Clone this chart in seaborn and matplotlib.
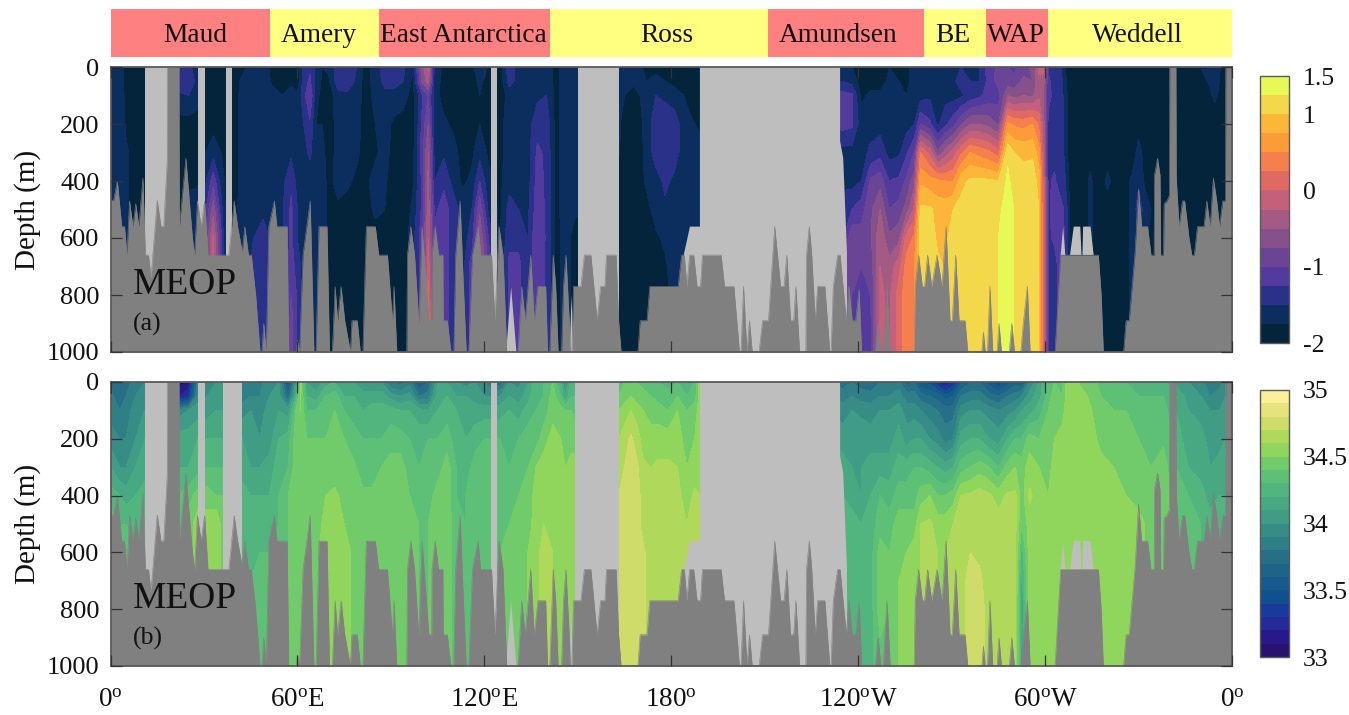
"""
plot.py

Temperature and salinity sections around Antarctica (MEOP)
"""
import matplotlib
matplotlib.use("Agg")
import matplotlib.pyplot as plt
from matplotlib.colors import ListedColormap
import numpy as np
import seaborn as sns

DEPTHS = [0, 50, 100, 200, 300, 400, 500, 600, 700, 800, 900, 1000]

REGION_NAMES = ["Maud", "Amery", "East Antarctica", "Ross", "Amundsen", "BE", "WAP", "Weddell"]
REGION_EDGES = [0, 51.2, 86.2, 141.1, 211.1, 261.1, 281, 301, 360]
REGION_LABEL_LON = [27.1, 66.9, 113.2, 178.7, 233.6, 270.5, 290.7, 329.5]
REGION_COLORS = ["#FF8080", "#FFFF80", "#FF8080", "#FFFF80", "#FF8080", "#FFFF80", "#FF8080", "#FFFF80"]

LON_TICKS = [0, 60, 120, 180, 240, 300, 360]
LON_LABELS = ["0$^{o}$", "60$^{o}$E", "120$^{o}$E", "180$^{o}$", "120$^{o}$W", "60$^{o}$W", "0$^{o}$"]
DEPTH_TICKS = [0, 200, 400, 600, 800, 1000]

TEMP_LEVELS = [-2, -1.75, -1.5, -1.25, -1, -0.75, -0.5, -0.25, 0, 0.25, 0.5, 0.75, 1, 1.25, 1.5]
TEMP_COLORS = ["#03243A", "#0B2E5E", "#293189", "#533A9E", "#6B4595", "#86518A", "#A35A83",
               "#C5607A", "#DE6A63", "#F67F4E", "#FD9B38", "#FCB63A", "#F4D84C", "#E6F957"]
SALT_LEVELS = [33 + 0.1 * i for i in range(21)]
SALT_COLORS = ["#27136F", "#28198A", "#24299C", "#1A3A9B", "#11508F", "#175A8C", "#1C6488",
               "#276F88", "#2F7F87", "#388C86", "#409C84", "#48A882", "#52B57E", "#5EC076",
               "#72CB6A", "#91D65C", "#B0D95C", "#CFDC6A", "#E6E37E", "#FDEE99"]

# seabed depth read along the section
BED_LON = [0, 1, 2.2, 3.6, 4.5, 5.3, 6.1, 7.2, 8.1, 9.1, 10.4, 11.2, 12.2, 13, 15, 16.2, 17.1, 18.2, 18.3, 22, 22.1,
           24.2, 25.3, 26.3, 27, 27.9, 29.1, 30.2, 31.3, 38, 39.7, 40.8, 42.3, 43.1, 44.3, 45.2, 46.6, 48, 48.6, 49.2,
           50, 50.8, 52.6, 53.4, 56.7, 57.2, 59.7, 60, 60.7, 61.8, 64.1, 65.3, 66, 66.9, 69.5, 70.3, 71.2, 72.1, 72.9,
           74, 75.2, 77, 77.5, 79.2, 80.2, 81, 82.1, 85, 86.1, 88.9, 90.5, 91, 91.9, 95.1, 95.3, 96.4, 97.6, 99, 100,
           102.2, 103.1, 103.2, 104.2, 105.3, 106.7, 106.8, 108.1, 109.3, 110.2, 110.8, 112.2, 113.4, 114.2, 115,
           116.2, 118, 118.8, 122.3, 123.4, 124.7, 126, 127.2, 130.8, 132, 133.1, 134.9, 136, 137.2, 139.7, 140.3, 141,
           142.1, 142.9, 143.7, 144.8, 145.4, 146.2, 147.3, 147.6, 148.1, 148.6, 151, 152.1, 154.2, 156.2, 157.3, 158.7,
           159.2, 162.3, 163.1, 163.9, 169.3, 170, 172.2, 173.1, 182.2, 183.3, 184.2, 185, 185.9, 187.2, 188.3, 189.4,
           190, 196, 197.1, 200.1, 201.9, 202.4, 203.2, 204.3, 205.1, 206, 208.2, 209.3, 211.2, 213.2, 215.1, 216.2,
           217.1, 218.3, 219.3, 220, 221.2, 223.2, 223.4, 224.3, 225.1, 226.2, 227, 229.3, 230.9, 231.3, 232, 233.4,
           234.2, 236.2, 237, 238.1, 239.2, 240.3, 241.1, 245.5, 246.4, 247.3, 248.1, 249.2, 250.3, 258, 258.3, 259.4,
           260.6, 261.3, 262.3, 263.6, 265.3, 266.9, 268.2, 269.5, 270.2, 271.3, 272.4, 274.3, 275.2, 279.7, 280.2,
           280.8, 281.5, 282.3, 283.2, 284.6, 285.2, 286, 288.5, 289.3, 290.2, 292.2, 293, 294.3, 295.2, 303.2, 305,
           317.1, 318, 318.7, 325.2, 326, 327, 328.9, 330, 331, 332.9, 334, 335, 335.1, 336.1, 336.9, 337.1, 338, 338.2,
           339.1, 339.9, 340, 342, 342.1, 343, 344.1, 344.8, 346.2, 347.1, 347.9, 348.9, 351, 351.9, 353, 354, 355.1,
           356, 357, 357.9, 358, 360]
BED_DEPTH = [468, 468, 400, 560, 560, 660, 470, 560, 480, 560, 390, 660, 660, 740, 468, 560, 560, 330, 0, 0, 560,
             320, 470, 600, 660, 470, 560, 470, 660, 660, 470, 560, 650, 560, 660, 660, 800, 1000, 1000, 900,
             1000, 560, 470, 560, 560, 1000, 1000, 960, 1000, 660, 470, 1000, 1000, 560, 560, 1000, 1000, 770, 890,
             770, 890, 1000, 890, 890, 1000, 1000, 560, 560, 660, 660, 890, 770, 1000, 1000, 660, 560, 660, 900, 560,
             890, 890, 660, 560, 660, 660, 890, 890, 1000, 1000, 660, 470, 800, 1000, 1000,
             660, 560, 660, 660, 890, 560, 660, 1000, 1000, 770, 890, 660, 890, 770, 770, 1000, 1000,
             660, 770, 1000, 1000, 770, 660, 900, 1000, 1000, 770, 770, 660, 660, 890, 770, 770,
             660, 660, 890, 1000, 1000, 890, 890, 770, 770, 660, 660, 770, 660, 660, 770, 770,
             660, 660, 770, 770, 1000, 1000, 770, 1000, 890, 1000, 1000, 890, 890, 560, 770, 770,
             660, 890, 890, 770, 1000, 1000, 660, 560, 660, 890, 770, 770, 1000, 1000, 770, 660,
             660, 890, 770, 890, 890, 780, 1000, 1000, 900, 1000, 1000, 770, 1000, 1000, 770, 660,
             770, 770, 660, 770, 660, 770, 560, 890, 890, 660, 890, 890, 1000, 1000, 930,
             1000, 1000, 770, 1000, 1000, 900, 1000, 1000, 900, 1000, 1000, 900, 770, 1000, 1000, 660,
             660, 800, 1000, 1000, 890, 890, 650, 430, 560, 560, 660, 660, 380, 320, 380, 660, 660, 480,
             470, 450, 0, 0, 390, 560, 470, 470, 600, 660, 660, 560, 560, 470, 560, 390, 470,
             560, 470, 470, 0, 0]

# profiles of potential temperature, top down, held at the last reading under the seabed
TEMP_LON = [0, 3, 5, 8, 11, 22, 25, 28, 30.5, 33, 35.5, 37, 40, 43, 46, 49, 52, 55, 58, 60, 62, 64, 66, 68, 70, 73, 76,
            79, 82, 85, 88, 91, 94, 97, 100, 102, 104, 107, 110, 113, 116, 118.5, 121.5, 125, 128, 131, 134, 137, 140,
            143, 146, 149, 163, 165, 168, 170, 172, 175, 178, 181, 184, 186, 189, 235, 238, 241, 244, 247, 250, 253,
            255.5, 258, 260, 263, 265.5, 268, 270.5, 273, 276, 279, 282, 285, 288, 290, 293, 296, 298, 299.5, 301, 303,
            305, 306.5, 308, 312, 314.5, 317, 320, 324, 328, 330, 332, 336, 342, 346, 351, 354.5, 358, 360]
TEMP_PROFILES = [
    [-1.6, -1.6, -1.6, -1.6, -1.6, -1.6, -1.6],
    [-1.65, -1.65, -1.65, -1.5, -1.6, -1.6, -1.6],
    [-1.8, -1.8, -1.8, -1.8, -1.7, -1.7, -1.7],
    [-1.9, -1.9, -1.9, -1.9, -1.9, -1.9, -1.9],
    [-1.9, -1.9, -1.9, -1.9, -1.9, -1.9, -1.9],
    [-1.45, -1.35, -1.55, -1.85, -1.9, -1.9, -1.9],
    [-1.45, -1.3, -1.5, -1.85, -1.85, -1.8, -1.65, -1.6],
    [-1.6, -1.6, -1.65, -1.85, -1.85, -1.8, -1.6, -1.6],
    [-1.9, -1.9, -1.9, -1.85, -1.75, -1.55, -1.3, -1.0, -0.9],
    [-1.9, -1.9, -1.9, -1.85, -1.6, -1.1, -0.6, -0.2, -0.2],
    [-1.9, -1.9, -1.9, -1.85, -1.75, -1.6, -1.4, -1.2, -1.2],
    [-1.9, -1.9, -1.9, -1.9, -1.85, -1.8, -1.8, -1.8],
    [-1.85, -1.85, -1.85, -1.85, -1.85, -1.85, -1.8, -1.8],
    [-1.8, -1.65, -1.6, -1.6, -1.6, -1.6, -1.6, -1.6],
    [-1.6, -1.6, -1.6, -1.55, -1.6, -1.6, -1.55, -1.5, -1.4, -1.3, -1.3, -1.3],
    [-1.65, -1.6, -1.6, -1.6, -1.6, -1.6, -1.55, -1.4, -1.3, -1.3, -1.3, -1.3],
    [-1.8, -1.8, -1.65, -1.6, -1.6, -1.55, -1.55, -1.55, -1.5],
    [-1.85, -1.85, -1.75, -1.65, -1.6, -1.6, -1.55, -1.55, -1.5, -1.5, -1.5, -1.5],
    [-1.85, -1.8, -1.65, -1.6, -1.55, -1.3, -1.2, -1.2, -1.1, -1.0, -0.9, -0.9],
    [-1.9, -1.9, -1.7, -1.6, -1.6, -1.6, -1.5, -1.5, -1.4, -1.3, -1.3, -1.3],
    [-1.45, -1.4, -1.35, -1.5, -1.6, -1.6, -1.6, -1.6, -1.6, -1.6, -1.6, -1.6],
    [-1.3, -1.2, -1.0, -1.3, -1.45, -1.65, -1.65, -1.65, -1.65, -1.65, -1.65, -1.65],
    [-1.6, -1.6, -1.7, -1.75, -1.65, -1.6, -1.6, -1.6, -1.6, -1.6, -1.6, -1.6],
    [-1.75, -1.8, -1.8, -1.75, -1.65, -1.6, -1.6, -1.6, -1.6, -1.6, -1.6, -1.6],
    [-1.7, -1.8, -1.9, -1.9, -1.9, -1.85, -1.85, -1.85, -1.85, -1.85, -1.85, -1.85],
    [-1.35, -1.35, -1.6, -1.65, -1.65, -1.65, -1.8, -1.9, -1.9, -1.9, -1.9, -1.9],
    [-1.3, -1.35, -1.55, -1.65, -1.65, -1.7, -1.85, -1.9, -1.9, -1.9, -1.9, -1.9],
    [-1.5, -1.55, -1.6, -1.65, -1.7, -1.8, -1.85, -1.9, -1.9, -1.9, -1.9, -1.9],
    [-1.9, -1.9, -1.9, -1.9, -1.85, -1.8, -1.85, -1.9, -1.9, -1.9, -1.9, -1.9],
    [-1.6, -1.6, -1.65, -1.75, -1.8, -1.65, -1.7, -1.85, -1.9, -1.9, -1.9, -1.9],
    [-1.4, -1.45, -1.55, -1.65, -1.65, -1.7, -1.75, -1.85, -1.9, -1.9, -1.9, -1.9],
    [-1.35, -1.4, -1.6, -1.8, -1.85, -1.9, -1.9, -1.9, -1.9, -1.9, -1.9, -1.9],
    [-1.45, -1.5, -1.65, -1.85, -1.9, -1.9, -1.9, -1.9, -1.9, -1.9, -1.9, -1.9],
    [-1.75, -1.8, -1.85, -1.9, -1.85, -1.8, -1.7, -1.6, -1.6, -1.6, -1.6, -1.6],
    [-0.6, -0.7, -1.3, -1.2, -1.1, -1.2, -1.2, -1.1, -1.1, -1.1, -1.1, -1.1],
    [-0.2, -0.4, -1.0, -0.75, -0.5, -0.45, -0.35, -0.25, -0.1, 0.1, 0.2, 0.2],
    [-1.6, -1.6, -1.65, -1.7, -1.6, -1.5, -1.3, -1.2, -1.2, -1.2, -1.2, -1.2],
    [-1.8, -1.85, -1.85, -1.7, -1.55, -1.3, -1.15, -1.2, -1.1, -1.1, -1.1, -1.1],
    [-1.85, -1.85, -1.85, -1.8, -1.65, -1.6, -1.35, -1.3, -1.4, -1.4, -1.4, -1.4],
    [-1.9, -1.9, -1.9, -1.9, -1.85, -1.8, -1.6, -1.6, -1.6, -1.6, -1.6, -1.6],
    [-1.85, -1.85, -1.9, -1.9, -1.8, -1.7, -1.5, -1.4, -1.1, -1.1, -1.1, -1.1],
    [-1.5, -1.7, -1.75, -1.75, -1.6, -1.25, -0.8, -0.5, -0.4, -0.4, -0.4, -0.4],
    [-1.8, -1.85, -1.85, -1.85, -1.8, -1.7, -1.6, -1.3, -1.1, -1.1, -1.1, -1.1],
    [-1.9, -1.9, -1.9, -1.85, -1.85, -1.8, -1.8, -1.8, -1.7, -1.7, -1.7, -1.7],
    [-1.35, -1.4, -1.65, -1.6, -1.6, -1.6, -1.4, -1.3, -1.2, -1.2, -1.2, -1.2],
    [-1.6, -1.6, -1.6, -1.6, -1.6, -1.55, -1.5, -1.3, -1.2, -1.2, -1.2, -1.2],
    [-1.55, -1.6, -1.6, -1.6, -1.6, -1.6, -1.55, -1.5, -1.4, -1.4, -1.4, -1.4],
    [-1.6, -1.6, -1.55, -1.35, -1.2, -1.15, -1.1, -1.0, -1.1, -1.1, -1.1, -1.1],
    [-1.6, -1.55, -1.5, -1.35, -1.3, -1.3, -1.3, -1.3, -1.3, -1.3, -1.3, -1.3],
    [-1.85, -1.85, -1.85, -1.85, -1.85, -1.85, -1.85, -1.85, -1.85, -1.85, -1.85, -1.85],
    [-1.6, -1.6, -1.6, -1.6, -1.6, -1.6, -1.6, -1.65, -1.65, -1.65, -1.65, -1.65],
    [-1.6, -1.6, -1.6, -1.6, -1.6, -1.6, -1.7, -1.85, -1.85, -1.85, -1.85, -1.85],
    [-1.6, -1.6, -1.65, -1.7, -1.72, -1.85, -1.9, -1.9, -1.9, -1.9, -1.9, -1.9],
    [-1.6, -1.6, -1.75, -1.85, -1.85, -1.85, -1.9, -1.9, -1.9, -1.9, -1.9, -1.9],
    [-1.65, -1.7, -1.85, -1.9, -1.9, -1.9, -1.9, -1.9, -1.9, -1.9, -1.9, -1.9],
    [-1.7, -1.72, -1.75, -1.85, -1.85, -1.85, -1.9, -1.9, -1.9, -1.9, -1.9, -1.9],
    [-1.85, -1.75, -1.6, -1.6, -1.65, -1.7, -1.85, -1.9, -1.9, -1.9, -1.9, -1.9],
    [-1.8, -1.7, -1.5, -1.4, -1.4, -1.6, -1.65, -1.8, -1.9, -1.9, -1.9, -1.9],
    [-1.85, -1.75, -1.55, -1.35, -1.3, -1.45, -1.55, -1.7, -1.8, -1.8, -1.8, -1.8],
    [-1.85, -1.85, -1.6, -1.4, -1.4, -1.55, -1.6, -1.6, -1.6, -1.7, -1.7, -1.7],
    [-1.9, -1.85, -1.75, -1.6, -1.6, -1.6, -1.6, -1.6, -1.6, -1.6, -1.6, -1.6],
    [-1.9, -1.9, -1.85, -1.7, -1.6, -1.6, -1.6, -1.6, -1.6, -1.6, -1.6, -1.6],
    [-1.9, -1.9, -1.9, -1.8, -1.65, -1.6, -1.6, -1.6, -1.6, -1.6, -1.6, -1.6],
    [-1.6, -1.5, -1.15, -1.15, -1.6, -1.6, -1.3, -1.3, -1.0, -0.8, -0.8, -0.8],
    [-1.75, -1.6, -1.2, -1.2, -1.6, -1.6, -1.25, -0.8, -0.9, -1.0, -1.0, -1.0],
    [-1.85, -1.85, -1.8, -1.65, -1.6, -1.5, -1.1, -0.9, -1.0, -1.1, -1.1, -1.1],
    [-1.85, -1.85, -1.7, -1.6, -1.45, -0.95, -0.8, -0.8, -0.9, -1.0, -1.05, -1.05],
    [-1.85, -1.85, -1.7, -1.6, -1.35, -0.85, -0.5, -0.3, -0.25, -0.2, -0.2, -0.2],
    [-1.75, -1.7, -1.6, -1.6, -1.6, -1.25, -1.0, -0.7, -0.4, -0.3, -0.3, -0.3],
    [-1.75, -1.75, -1.6, -1.6, -1.55, -1.2, -0.9, -0.6, -0.1, 0.1, 0.1, 0.1],
    [-1.85, -1.85, -1.75, -1.6, -1.3, -0.95, -0.65, 0.1, 0.35, 0.4, 0.4, 0.4],
    [-1.6, -1.6, -1.7, -1.5, -1.0, -0.6, -0.2, 0.3, 0.5, 0.5, 0.5, 0.5],
    [-1.6, -1.6, -1.6, -1.0, 0.25, 0.7, 1.05, 1.15, 1.05, 1.0, 1.0, 1.0],
    [-1.6, -1.6, -1.55, -1.2, -0.1, 0.6, 1.05, 1.15, 1.1, 1.05, 1.05, 1.05],
    [-1.6, -1.6, -1.6, -1.55, -0.7, 0.55, 0.9, 0.95, 1.05, 1.05, 1.05, 1.05],
    [-1.55, -1.6, -1.6, -1.3, -0.4, 0.5, 0.9, 0.95, 0.98, 0.98, 0.98, 0.98],
    [-1.55, -1.55, -1.6, -1.1, -0.15, 0.5, 1.0, 1.1, 1.15, 1.15, 1.15, 1.15],
    [-1.5, -1.4, -1.55, -0.8, 0.2, 0.9, 1.1, 1.15, 1.15, 1.15, 1.15, 1.15],
    [-1.55, -1.5, -1.4, -0.5, 0.5, 1.05, 1.15, 1.15, 1.2, 1.2, 1.2, 1.2],
    [-1.5, -1.5, -1.3, -0.5, 0.4, 1.05, 1.15, 1.15, 1.2, 1.2, 1.2, 1.2],
    [-1.1, -1.15, -1.15, -0.6, 0.3, 1.05, 1.15, 1.2, 1.2, 1.2, 1.2, 1.2],
    [-0.95, -0.9, -1.1, -0.8, 0.1, 1.0, 1.2, 1.25, 1.25, 1.25, 1.25, 1.25],
    [-1.0, -0.9, -0.5, 0.55, 1.2, 1.3, 1.35, 1.35, 1.3, 1.3, 1.3, 1.3],
    [-1.1, -0.9, -0.6, 0.45, 1.0, 1.15, 1.25, 1.25, 1.25, 1.25, 1.25, 1.25],
    [-0.85, -0.7, -0.5, 0.4, 0.95, 1.1, 1.2, 1.25, 1.25, 1.25, 1.25, 1.25],
    [-0.7, -0.75, -0.55, 0.5, 0.95, 1.15, 1.2, 1.2, 1.2, 1.2, 1.2, 1.2],
    [-0.2, -0.3, -0.3, 0.2, 0.6, 0.9, 1.0, 1.0, 1.0, 1.0, 1.0, 1.0],
    [-0.1, -0.4, -0.5, -0.4, -0.3, -0.1, -0.1, -0.1, -0.1, -0.1, -0.1, -0.1],
    [-1.3, -1.2, -1.2, -1.3, -1.3, -1.3, -1.3, -1.3, -1.3, -1.3, -1.3, -1.3],
    [-1.4, -1.35, -1.3, -1.3, -1.35, -1.2, -1.15, -1.2, -1.4, -1.4, -1.4, -1.4],
    [-1.45, -1.4, -1.35, -1.3, -1.3, -1.4, -1.15, -1.1, -1.1, -1.1, -1.1, -1.1],
    [-1.75, -1.7, -1.65, -1.6, -1.6, -1.5, -1.3, -1.3, -1.3, -1.3, -1.3, -1.3],
    [-1.9, -1.9, -1.9, -1.9, -1.9, -1.85, -1.8, -1.75, -1.75, -1.75, -1.75, -1.75],
    [-1.9, -1.9, -1.9, -1.9, -1.9, -1.9, -1.9, -1.9, -1.9, -1.9, -1.9, -1.9],
    [-1.9, -1.9, -1.9, -1.9, -1.85, -1.7, -1.7, -1.7, -1.9, -1.9, -1.9, -1.9],
    [-1.9, -1.9, -1.9, -1.9, -1.9, -1.9, -1.9, -1.9, -1.9, -1.9, -1.9, -1.9],
    [-1.9, -1.9, -1.9, -1.9, -1.85, -1.7, -1.85, -1.9, -1.9, -1.9, -1.9, -1.9],
    [-1.9, -1.9, -1.9, -1.9, -1.9, -1.9, -1.9, -1.9, -1.9, -1.9, -1.9, -1.9],
    [-1.9, -1.9, -1.9, -1.9, -1.9, -1.7, -1.7, -1.7, -1.7, -1.7, -1.7, -1.7],
    [-1.9, -1.9, -1.9, -1.85, -1.65, -1.55, -1.35, -1.5, -1.5, -1.5, -1.5, -1.5],
    [-1.9, -1.9, -1.9, -1.9, -1.85, -1.8, -1.6, -1.7, -1.7, -1.7, -1.7, -1.7],
    [-1.9, -1.9, -1.9, -1.9, -1.9, -1.9, -1.9, -1.9, -1.9, -1.9, -1.9, -1.9],
    [-1.9, -1.9, -1.9, -1.9, -1.9, -1.9, -1.9, -1.9, -1.9, -1.9, -1.9, -1.9],
    [-1.9, -1.9, -1.9, -1.9, -1.9, -1.9, -1.9, -1.9, -1.9, -1.9, -1.9, -1.9],
    [-1.7, -1.8, -1.9, -1.9, -1.9, -1.9, -1.9, -1.9, -1.9, -1.9, -1.9, -1.9],
    [-1.6, -1.65, -1.7, -1.9, -1.9, -1.9, -1.9, -1.9, -1.9, -1.9, -1.9, -1.9],
    [-1.9, -1.9, -1.9, -1.9, -1.9, -1.9, -1.9, -1.9, -1.9, -1.9, -1.9, -1.9],
    [-1.9, -1.9, -1.9, -1.9, -1.9, -1.9, -1.9, -1.9, -1.9, -1.9, -1.9, -1.9],
]

# profiles of salinity, top down, held at the last reading under the seabed
SALT_LON = [0, 3, 5, 8, 11, 22, 25, 28, 31, 34, 36, 42.2, 45, 48, 51, 54, 57, 59.5, 61, 63, 66, 69, 72, 75, 78, 81, 84,
            87, 90, 93, 96, 99, 102, 105, 108, 111, 114, 117, 120, 122, 125, 128, 131, 134, 136.5, 139, 142, 144.5, 146,
            148, 149.5, 163.1, 165, 167, 169, 171, 173.5, 176, 179, 182, 185, 187.5, 189.2, 235, 238, 241, 244, 247,
            250, 253, 255.5, 258, 260, 263, 265.5, 268, 270.5, 273, 276, 279, 282, 285, 288, 290.5, 292.5, 295, 298,
            301, 303, 305.5, 307, 309, 312, 315, 318, 322, 326, 330, 334, 338, 342, 346, 350, 353, 356, 358, 360]
SALT_PROFILES = [
    [33.8, 33.82, 33.85, 33.95, 34.1, 34.25, 34.35, 34.35],
    [33.7, 33.75, 33.8, 33.9, 34.0, 34.2, 34.3, 34.35],
    [33.75, 33.8, 33.85, 33.9, 34.0, 34.15, 34.3, 34.35],
    [33.85, 33.9, 33.95, 34.0, 34.1, 34.2, 34.3, 34.3],
    [33.9, 33.95, 34.0, 34.1, 34.15, 34.25, 34.3, 34.3],
    [33.05, 33.2, 33.95, 34.15, 34.2, 34.3, 34.35, 34.35],
    [33.1, 33.3, 34.0, 34.15, 34.2, 34.35, 34.45, 34.45],
    [33.9, 33.95, 34.05, 34.2, 34.25, 34.45, 34.55, 34.55],
    [34.0, 34.0, 34.05, 34.2, 34.3, 34.45, 34.55, 34.6],
    [34.0, 34.05, 34.1, 34.2, 34.3, 34.4, 34.6, 34.6],
    [34.0, 34.05, 34.1, 34.2, 34.3, 34.4, 34.45, 34.45],
    [33.8, 33.85, 33.95, 34.1, 34.15, 34.25, 34.3, 34.3],
    [33.85, 33.9, 34.0, 34.05, 34.1, 34.2, 34.25, 34.3, 34.3],
    [33.85, 33.9, 33.95, 34.0, 34.1, 34.2, 34.3, 34.3, 34.35],
    [34.0, 34.0, 34.05, 34.05, 34.15, 34.2, 34.3, 34.3, 34.35],
    [34.0, 34.05, 34.1, 34.2, 34.25, 34.3, 34.3, 34.35, 34.35],
    [33.5, 33.7, 34.05, 34.25, 34.3, 34.4, 34.4, 34.4, 34.4],
    [34.0, 34.2, 34.4, 34.45, 34.45, 34.45, 34.45, 34.45, 34.45],
    [34.55, 34.52, 34.5, 34.48, 34.45, 34.45, 34.45, 34.45, 34.45],
    [34.1, 34.2, 34.3, 34.4, 34.45, 34.45, 34.45, 34.45, 34.45],
    [34.0, 34.15, 34.3, 34.4, 34.42, 34.45, 34.47, 34.47, 34.47],
    [34.15, 34.3, 34.35, 34.4, 34.45, 34.5, 34.52, 34.55, 34.55],
    [34.2, 34.35, 34.4, 34.45, 34.45, 34.52, 34.55, 34.55, 34.55],
    [34.15, 34.2, 34.3, 34.4, 34.45, 34.47, 34.5, 34.55, 34.55],
    [34.1, 34.2, 34.25, 34.35, 34.42, 34.46, 34.48, 34.48, 34.48],
    [34.0, 34.15, 34.2, 34.3, 34.35, 34.42, 34.45, 34.45, 34.45],
    [34.0, 34.15, 34.25, 34.3, 34.35, 34.42, 34.45, 34.45, 34.45],
    [34.0, 34.15, 34.25, 34.3, 34.4, 34.45, 34.45, 34.45, 34.5],
    [33.8, 34.05, 34.25, 34.35, 34.45, 34.45, 34.45, 34.5, 34.5],
    [33.75, 34.0, 34.2, 34.35, 34.45, 34.45, 34.5, 34.5, 34.5],
    [33.85, 34.05, 34.2, 34.3, 34.35, 34.4, 34.45, 34.5, 34.5],
    [33.6, 33.8, 34.15, 34.25, 34.3, 34.35, 34.4, 34.4, 34.4],
    [33.7, 33.85, 34.1, 34.3, 34.35, 34.35, 34.4, 34.4, 34.4],
    [34.1, 34.15, 34.2, 34.3, 34.35, 34.45, 34.45, 34.45, 34.45],
    [34.1, 34.2, 34.25, 34.35, 34.45, 34.45, 34.45, 34.45, 34.45],
    [34.0, 34.1, 34.2, 34.25, 34.3, 34.3, 34.35, 34.35, 34.35],
    [33.95, 34.1, 34.15, 34.2, 34.25, 34.3, 34.3, 34.3, 34.35],
    [34.0, 34.05, 34.15, 34.25, 34.35, 34.35, 34.35, 34.35, 34.35],
    [33.9, 34.0, 34.15, 34.3, 34.35, 34.35, 34.35, 34.35, 34.35],
    [33.8, 34.0, 34.15, 34.3, 34.35, 34.35, 34.35, 34.35, 34.35],
    [33.7, 34.0, 34.15, 34.3, 34.35, 34.35, 34.4, 34.4, 34.4],
    [34.0, 34.1, 34.2, 34.3, 34.3, 34.35, 34.4, 34.45, 34.45],
    [33.95, 34.05, 34.15, 34.3, 34.4, 34.4, 34.45, 34.45, 34.45],
    [34.1, 34.15, 34.25, 34.35, 34.4, 34.42, 34.45, 34.5, 34.5],
    [34.3, 34.3, 34.3, 34.35, 34.5, 34.55, 34.55, 34.55, 34.55],
    [34.3, 34.3, 34.35, 34.45, 34.55, 34.6, 34.6, 34.65, 34.65],
    [34.4, 34.45, 34.45, 34.55, 34.6, 34.6, 34.6, 34.6, 34.6],
    [34.2, 34.3, 34.45, 34.5, 34.55, 34.55, 34.55, 34.55, 34.55],
    [33.95, 34.1, 34.4, 34.45, 34.5, 34.55, 34.55, 34.55, 34.55],
    [34.3, 34.3, 34.4, 34.45, 34.55, 34.55, 34.55, 34.55, 34.55],
    [34.3, 34.3, 34.35, 34.45, 34.55, 34.55, 34.55, 34.55, 34.55],
    [34.35, 34.4, 34.5, 34.6, 34.65, 34.7, 34.72, 34.75, 34.75, 34.75, 34.75, 34.75],
    [34.4, 34.45, 34.55, 34.65, 34.7, 34.75, 34.75, 34.75, 34.75, 34.75, 34.75, 34.75],
    [34.4, 34.5, 34.6, 34.72, 34.75, 34.78, 34.78, 34.78, 34.78, 34.78, 34.78, 34.78],
    [34.4, 34.45, 34.55, 34.65, 34.72, 34.75, 34.75, 34.75, 34.75, 34.75, 34.75, 34.75],
    [34.35, 34.45, 34.5, 34.55, 34.62, 34.65, 34.65, 34.72, 34.72, 34.72, 34.72, 34.72],
    [34.3, 34.4, 34.45, 34.55, 34.6, 34.62, 34.65, 34.65, 34.65, 34.65, 34.65, 34.65],
    [34.3, 34.35, 34.45, 34.55, 34.62, 34.65, 34.65, 34.65, 34.65, 34.65, 34.65, 34.65],
    [34.25, 34.35, 34.4, 34.55, 34.62, 34.65, 34.65, 34.65, 34.65, 34.65, 34.65, 34.65],
    [34.3, 34.4, 34.5, 34.55, 34.6, 34.63, 34.63, 34.63, 34.63, 34.63, 34.63, 34.63],
    [34.2, 34.3, 34.4, 34.45, 34.5, 34.55, 34.6, 34.6, 34.6, 34.6, 34.6, 34.6],
    [34.3, 34.35, 34.45, 34.5, 34.55, 34.62, 34.65, 34.65, 34.65, 34.65, 34.65, 34.65],
    [34.55, 34.55, 34.55, 34.55, 34.55, 34.6, 34.62, 34.62, 34.62, 34.62, 34.62, 34.62],
    [33.75, 33.85, 33.95, 34.05, 34.15, 34.2, 34.25, 34.3, 34.3, 34.3, 34.3, 34.3],
    [33.8, 33.9, 34.0, 34.05, 34.1, 34.15, 34.25, 34.3, 34.25, 34.25, 34.25, 34.25],
    [33.75, 33.85, 33.98, 34.05, 34.1, 34.1, 34.2, 34.25, 34.25, 34.25, 34.25, 34.25],
    [33.7, 33.85, 33.95, 34.05, 34.15, 34.2, 34.25, 34.25, 34.25, 34.25, 34.25, 34.25],
    [33.8, 33.9, 34.0, 34.05, 34.15, 34.3, 34.35, 34.45, 34.45, 34.45, 34.4, 34.4],
    [33.8, 33.9, 34.0, 34.05, 34.15, 34.25, 34.35, 34.4, 34.4, 34.4, 34.4, 34.4],
    [33.85, 33.95, 34.05, 34.15, 34.25, 34.35, 34.45, 34.5, 34.5, 34.5, 34.5, 34.5],
    [33.65, 33.85, 33.95, 34.05, 34.25, 34.35, 34.45, 34.5, 34.55, 34.55, 34.55, 34.55],
    [33.7, 33.85, 33.95, 34.1, 34.3, 34.35, 34.45, 34.55, 34.55, 34.55, 34.55, 34.55],
    [33.5, 33.75, 33.9, 34.1, 34.3, 34.45, 34.6, 34.6, 34.6, 34.6, 34.6, 34.6],
    [33.45, 33.7, 33.85, 34.0, 34.25, 34.5, 34.62, 34.62, 34.62, 34.62, 34.62, 34.62],
    [33.3, 33.65, 33.8, 33.95, 34.2, 34.4, 34.55, 34.6, 34.6, 34.6, 34.6, 34.6],
    [33.15, 33.55, 33.75, 33.85, 34.15, 34.4, 34.55, 34.6, 34.6, 34.6, 34.6, 34.6],
    [33.3, 33.6, 33.75, 33.9, 34.2, 34.45, 34.6, 34.65, 34.65, 34.65, 34.65, 34.65],
    [33.55, 33.8, 33.95, 34.15, 34.35, 34.6, 34.65, 34.65, 34.65, 34.65, 34.65, 34.65],
    [33.7, 33.85, 34.0, 34.2, 34.4, 34.62, 34.65, 34.7, 34.75, 34.75, 34.75, 34.75],
    [33.7, 33.85, 34.0, 34.2, 34.45, 34.65, 34.68, 34.68, 34.72, 34.75, 34.75, 34.75],
    [33.55, 33.75, 33.95, 34.1, 34.4, 34.62, 34.65, 34.65, 34.65, 34.65, 34.65, 34.65],
    [33.4, 33.7, 33.9, 34.05, 34.3, 34.55, 34.65, 34.65, 34.65, 34.65, 34.65, 34.65],
    [33.55, 33.8, 33.95, 34.2, 34.45, 34.62, 34.65, 34.65, 34.65, 34.65, 34.65, 34.65],
    [33.65, 33.85, 34.0, 34.3, 34.5, 34.62, 34.62, 34.62, 34.62, 34.62, 34.62, 34.62],
    [33.6, 33.9, 34.1, 34.3, 34.45, 34.45, 34.4, 34.25, 34.15, 34.1, 34.1, 34.1],
    [33.9, 34.05, 34.15, 34.45, 34.55, 34.62, 34.55, 34.55, 34.55, 34.55, 34.55, 34.55],
    [34.1, 34.15, 34.25, 34.4, 34.5, 34.55, 34.55, 34.55, 34.55, 34.55, 34.55, 34.55],
    [34.35, 34.35, 34.4, 34.45, 34.45, 34.5, 34.5, 34.5, 34.5, 34.5, 34.5, 34.5],
    [34.4, 34.45, 34.45, 34.5, 34.55, 34.55, 34.55, 34.55, 34.55, 34.55, 34.55, 34.55],
    [34.4, 34.4, 34.45, 34.55, 34.55, 34.55, 34.55, 34.55, 34.55, 34.55, 34.55, 34.55],
    [34.55, 34.55, 34.55, 34.55, 34.55, 34.55, 34.55, 34.55, 34.55, 34.55, 34.55, 34.55],
    [34.55, 34.55, 34.55, 34.55, 34.55, 34.55, 34.55, 34.55, 34.55, 34.55, 34.55, 34.55],
    [34.45, 34.55, 34.55, 34.55, 34.55, 34.55, 34.55, 34.55, 34.55, 34.55, 34.55, 34.55],
    [34.45, 34.45, 34.5, 34.55, 34.55, 34.55, 34.55, 34.55, 34.55, 34.55, 34.55, 34.55],
    [34.35, 34.4, 34.45, 34.45, 34.55, 34.6, 34.6, 34.55, 34.55, 34.55, 34.55, 34.55],
    [34.3, 34.35, 34.4, 34.45, 34.5, 34.55, 34.55, 34.55, 34.55, 34.55, 34.55, 34.55],
    [34.3, 34.35, 34.4, 34.45, 34.45, 34.5, 34.55, 34.55, 34.55, 34.55, 34.55, 34.55],
    [34.25, 34.3, 34.35, 34.4, 34.45, 34.45, 34.55, 34.55, 34.55, 34.55, 34.55, 34.55],
    [34.25, 34.3, 34.35, 34.35, 34.4, 34.45, 34.45, 34.45, 34.45, 34.45, 34.45, 34.45],
    [34.25, 34.3, 34.35, 34.38, 34.45, 34.45, 34.45, 34.45, 34.45, 34.45, 34.45, 34.45],
    [34.05, 34.2, 34.2, 34.25, 34.3, 34.35, 34.35, 34.35, 34.35, 34.35, 34.35, 34.35],
    [34.0, 34.05, 34.1, 34.15, 34.2, 34.3, 34.35, 34.35, 34.35, 34.35, 34.35, 34.35],
    [33.95, 34.0, 34.05, 34.15, 34.15, 34.25, 34.3, 34.3, 34.3, 34.3, 34.3, 34.3],
    [33.8, 33.9, 34.0, 34.05, 34.1, 34.15, 34.25, 34.25, 34.25, 34.25, 34.25, 34.25],
    [33.85, 33.95, 34.0, 34.05, 34.15, 34.2, 34.25, 34.25, 34.25, 34.25, 34.25, 34.25],
    [33.95, 34.0, 34.05, 34.1, 34.15, 34.2, 34.25, 34.25, 34.25, 34.25, 34.25, 34.25],
    [33.95, 34.0, 34.05, 34.1, 34.15, 34.2, 34.25, 34.25, 34.25, 34.25, 34.25, 34.25],
]

# columns and patches without profiles: lon and depth outlines
GAP_SHAPES = [
    ([189.2, 234.2, 234.2, 235.2, 236.4, 236.5, 184, 184, 186, 189.2], [0, 0, 260, 320, 650, 1000, 1000, 660, 560, 560]),
    ([305, 305.8, 306.5], [660, 560, 660]),
    ([308, 309.2, 311.3, 311.7, 312, 312.2, 314.6, 315.6], [660, 560, 560, 660, 660, 560, 560, 660]),
    ([127, 128.6, 130.3], [1000, 772, 1000]),
    ([147.4, 148, 148.6], [1000, 800, 1000]),
]
GAPS_TEMP = [(11.2, 22, 0), (28.2, 30.2, 0), (37.2, 39.1, 0), (122.3, 124.2, 0), (150.1, 163.1, 0)]
GAPS_SALT = [(11.2, 22, 0), (28.2, 30.2, 0), (36.2, 42.2, 0), (122.3, 124.2, 0), (149.2, 163.1, 0)]

W, H = 1349, 715
BED_COLOR = "#808080"
GAP_COLOR = "#BEBEBE"
FRAME_COLOR = "#5A5A5A"


def box(left, top, right, bottom):
    return [left / W, 1 - bottom / H, (right - left) / W, (bottom - top) / H]


def profiles_to_grid(profiles):
    rows = [p + [p[-1]] * (len(DEPTHS) - len(p)) for p in profiles]
    return np.array(rows).T


def draw_section(fig, ax_box, cax_box, lon, profiles, levels, colors, gaps, tag, cticks, clabels, show_x):
    ax = fig.add_axes(box(*ax_box))
    ax.set_facecolor(GAP_COLOR)
    cmap = ListedColormap(sns.color_palette(colors, n_colors=len(colors)))
    cs = ax.contourf(lon, DEPTHS, profiles_to_grid(profiles), levels=levels, cmap=cmap)

    for start, end, top in gaps:
        ax.fill_between([start, end], top, 1000, color=GAP_COLOR, lw=0)
    for gap_lon, gap_depth in GAP_SHAPES:
        ax.fill(gap_lon, gap_depth, color=GAP_COLOR, lw=0)

    ax.fill_between(BED_LON, BED_DEPTH, 1000, color=BED_COLOR, lw=0)
    sns.lineplot(x=BED_LON, y=BED_DEPTH, ax=ax, color=BED_COLOR, lw=0.4, estimator=None, sort=False)

    ax.set_xlim(0, 360)
    ax.set_ylim(1000, 0)
    ax.set_xticks(LON_TICKS)
    ax.set_xticklabels(LON_LABELS if show_x else [])
    ax.set_yticks(DEPTH_TICKS)
    ax.set_ylabel("Depth (m)", fontsize=21, labelpad=4)
    ax.tick_params(direction="in", top=True, right=True, length=8, width=0.9, color="#333333",
                   labelsize=19, pad=8)
    ax.tick_params(axis="x", labelsize=19.5, pad=16)
    for spine in ax.spines.values():
        spine.set_color(FRAME_COLOR)
        spine.set_linewidth(1.3)
    ax.set_axisbelow(False)

    ax.text(7.2, 795, "MEOP", fontsize=27, va="baseline", color="#111111")
    ax.text(7.2, 925, tag, fontsize=18.5, va="baseline", color="#111111")

    cax = fig.add_axes(box(*cax_box))
    cbar = fig.colorbar(cs, cax=cax, ticks=cticks, drawedges=False)
    cbar.ax.set_yticklabels(clabels)
    cbar.ax.tick_params(direction="in", length=3, width=0.8, color="#333333", labelsize=18.5, pad=10, right=True)
    cbar.outline.set_edgecolor(FRAME_COLOR)
    cbar.outline.set_linewidth(1.0)
    return ax


def main():
    sns.set_theme(style="ticks", font="Liberation Serif")
    plt.rcParams["mathtext.fontset"] = "custom"
    plt.rcParams["mathtext.rm"] = "Liberation Serif"
    plt.rcParams["mathtext.default"] = "rm"
    plt.rcParams["text.color"] = "#111111"
    plt.rcParams["axes.labelcolor"] = "#111111"
    plt.rcParams["xtick.labelcolor"] = "#111111"
    plt.rcParams["ytick.labelcolor"] = "#111111"

    fig = plt.figure(figsize=(W / 100, H / 100), dpi=100, facecolor="white")

    # strip of region names on top
    strip = fig.add_axes(box(110.5, 9, 1232, 57))
    for i, name in enumerate(REGION_NAMES):
        strip.axvspan(REGION_EDGES[i], REGION_EDGES[i + 1], color=REGION_COLORS[i], lw=0)
        strip.text(REGION_LABEL_LON[i], 0.44, name, ha="center", va="center", fontsize=19.7, color="#111111")
    strip.set_xlim(0, 360)
    strip.set_ylim(0, 1)
    strip.axis("off")

    draw_section(fig, (110.5, 67, 1232, 352), (1260, 76, 1289, 343), TEMP_LON, TEMP_PROFILES, TEMP_LEVELS,
                 TEMP_COLORS, GAPS_TEMP, "(a)", [-2, -1, 0, 1, 1.5], ["-2", "-1", "0", "1", "1.5"], False)
    draw_section(fig, (110.5, 382, 1232, 666), (1260, 390, 1289, 657), SALT_LON, SALT_PROFILES, SALT_LEVELS,
                 SALT_COLORS, GAPS_SALT, "(b)", [33, 33.5, 34, 34.5, 35], ["33", "33.5", "34", "34.5", "35"], True)

    fig.savefig("out.png", dpi=100)
    plt.close(fig)


if __name__ == "__main__":
    assert len(BED_LON) == len(BED_DEPTH), (len(BED_LON), len(BED_DEPTH))
    assert len(TEMP_LON) == len(TEMP_PROFILES), (len(TEMP_LON), len(TEMP_PROFILES))
    assert len(SALT_LON) == len(SALT_PROFILES), (len(SALT_LON), len(SALT_PROFILES))
    main()
